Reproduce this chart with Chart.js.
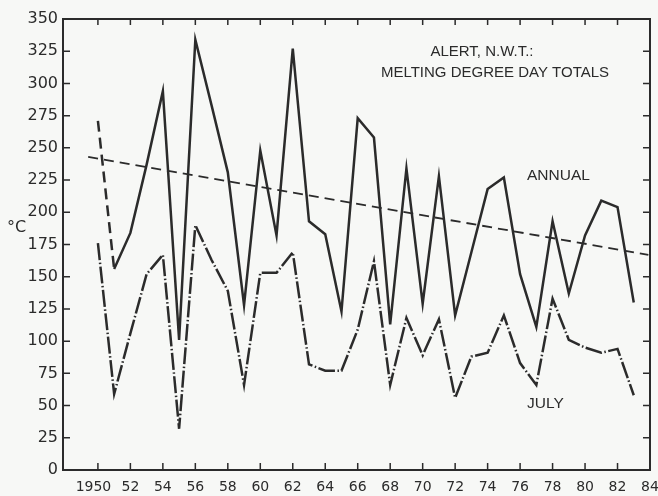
<!DOCTYPE html>
<html>
<head>
<meta charset="utf-8">
<script src="https://cdn.jsdelivr.net/npm/chart.js@4/dist/chart.umd.min.js"></script>
<style>
  html, body { margin: 0; padding: 0; background: #f7f8f6; }
  #wrap { width: 658px; height: 496px; }
</style>
</head>
<body>
<div id="wrap"><canvas id="meltChart" width="658" height="496"></canvas></div>
<script>
// years and values
const years = [1950, 1951, 1952, 1953, 1954, 1955, 1956, 1957, 1958, 1959,
               1960, 1961, 1962, 1963, 1964, 1965, 1966, 1967, 1968, 1969,
               1970, 1971, 1972, 1973, 1974, 1975, 1976, 1977, 1978, 1979,
               1980, 1981, 1982, 1983];
const annualTotals = [271, 156, 184, 237, 294, 101, 334, 283, 231, 128,
                      248, 182, 327, 193, 183, 123, 273, 258, 113, 234,
                      129, 228, 120, 169, 218, 227, 152, 111, 193, 137,
                      182, 209, 204, 130];
const julyTotals = [176, 59, 106, 152, 167, 32, 190, 163, 139, 66,
                    153, 153, 169, 82, 77, 77, 109, 162, 66, 118,
                    89, 117, 56, 88, 91, 120, 83, 66, 133, 101,
                    95, 91, 94, 58];
// trend line end points
const trendYears = [1949.4, 1983.9];
const trendValues = [243, 167];

const yearTicks = [1950, 1952, 1954, 1956, 1958, 1960, 1962, 1964, 1966, 1968,
                   1970, 1972, 1974, 1976, 1978, 1980, 1982, 1984];
const yearLabels = ['1950\u2007', '52', '54', '56', '58', '60', '62', '64', '66', '68',
                    '70', '72', '74', '76', '78', '80', '82', '84'];

const ink = '#2b2b2b';

function toPoints(xs, ys) {
    return xs.map((x, i) => ({ x: x, y: ys[i] }));
}

// frame, inward ticks and the text inside the plot
const framePlugin = {
    id: 'frame',
    afterDraw(chart) {
        const c = chart.ctx;
        const a = chart.chartArea;
        const xs = chart.scales.x;
        const ys = chart.scales.y;
        c.save();
        c.strokeStyle = ink;
        c.lineWidth = 2;
        c.strokeRect(a.left, a.top, a.right - a.left, a.bottom - a.top);

        c.lineWidth = 1.5;
        c.beginPath();
        yearTicks.forEach(v => {
            const px = xs.getPixelForValue(v);
            c.moveTo(px, a.bottom); c.lineTo(px, a.bottom - 7);
            c.moveTo(px, a.top); c.lineTo(px, a.top + 6);
        });
        ys.ticks.forEach(t => {
            const py = ys.getPixelForValue(t.value);
            c.moveTo(a.left, py); c.lineTo(a.left + 7, py);
            c.moveTo(a.right, py); c.lineTo(a.right - 7, py);
        });
        c.stroke();

        c.fillStyle = ink;
        c.textAlign = 'center';
        c.textBaseline = 'middle';
        c.font = '15px "Liberation Sans", sans-serif';
        c.fillText('ALERT, N.W.T.:', 482, 52);
        c.fillText('MELTING DEGREE DAY TOTALS', 495, 73);
        c.textAlign = 'left';
        c.font = '15.5px "Liberation Sans", sans-serif';
        c.fillText('ANNUAL', 527, 176);
        c.fillText('JULY', 527, 404);
        c.font = '16px "DejaVu Sans", sans-serif';
        c.fillText('°C', 7, 228);
        c.restore();
    }
};

const ctx = document.getElementById('meltChart').getContext('2d');
const meltChart = new Chart(ctx, {
    type: 'line',
    data: {
        datasets: [
            {
                label: 'Annual',
                data: toPoints(years, annualTotals),
                borderColor: ink,
                borderWidth: 2.5,
                pointRadius: 0,
                tension: 0,
                segment: {
                    borderDash: s => s.p0DataIndex === 0 ? [11, 6] : undefined
                }
            },
            {
                label: 'July',
                data: toPoints(years, julyTotals),
                borderColor: ink,
                borderWidth: 2.5,
                borderDash: [17, 2.5, 1.5, 2.5],
                pointRadius: 0,
                tension: 0
            },
            {
                label: 'Trend',
                data: toPoints(trendYears, trendValues),
                borderColor: ink,
                borderWidth: 1.8,
                borderDash: [10, 6],
                pointRadius: 0
            }
        ]
    },
    options: {
        responsive: false,
        animation: false,
        layout: { padding: { top: 19, right: 8, left: 0, bottom: 0 } },
        plugins: {
            legend: { display: false },
            tooltip: { enabled: false }
        },
        scales: {
            x: {
                type: 'linear',
                min: 1947.85,
                max: 1984,
                afterBuildTicks: scale => {
                    scale.ticks = yearTicks.map(v => ({ value: v }));
                },
                afterFit: scale => {
                    scale.height = 26;
                    scale.paddingLeft = 0;
                    scale.paddingRight = 0;
                },
                grid: { display: false, drawTicks: false },
                border: { display: false },
                ticks: {
                    padding: 9,
                    color: ink,
                    maxRotation: 0,
                    autoSkip: false,
                    font: { family: 'DejaVu Sans', size: 14 },
                    callback: (v, i) => yearLabels[i]
                }
            },
            y: {
                min: 0,
                max: 350,
                afterFit: scale => {
                    scale.width = 63;
                    scale.paddingTop = 0;
                    scale.paddingBottom = 0;
                },
                grid: { display: false, drawTicks: false },
                border: { display: false },
                ticks: {
                    stepSize: 25,
                    padding: 5,
                    color: ink,
                    font: { family: 'DejaVu Sans', size: 16 }
                }
            }
        }
    },
    plugins: [framePlugin]
});
</script>
</body>
</html>
